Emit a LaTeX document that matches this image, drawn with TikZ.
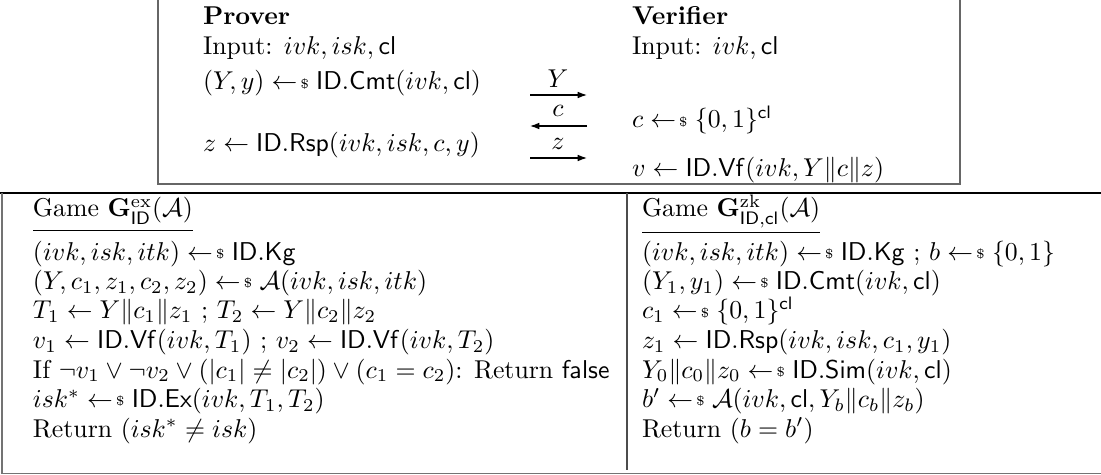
\documentclass[tikz,border=0pt]{standalone}
\usetikzlibrary{arrows.meta}
% sampling arrow: left arrow followed by a small dollar sign
\newcommand{\getsr}{\mathrel{\leftarrow\mkern-3mu{\raisebox{.6pt}{$\scriptscriptstyle\$$}}}}
\begin{document}
\begin{tikzpicture}[x=0.388pt,y=-0.388pt,
  txt/.style={anchor=base west, inner sep=0pt, outer sep=0pt},
  lbl/.style={anchor=base, inner sep=0pt, outer sep=0pt},
  frame/.style={draw=black!60, line width=0.75pt},
  rule/.style={line width=0.4pt},
  msg/.style={line width=0.45pt, -{Latex[length=3.6pt,width=2.6pt]}}]
\useasboundingbox (0,0) rectangle (1101,475);

% ---- protocol box ----
\draw[frame] (158,-5) -- (158,184) -- (960,184) -- (960,-5);

\node[txt] (p1) at (203,25) {\textbf{Prover}};
\node[txt] (p2) at (203,55) {Input: $ivk, isk, \mathsf{cl}$};
\node[txt] (p3) at (203,90) {$(Y,y) \getsr \mathsf{ID.Cmt}(ivk,\mathsf{cl})$};
\node[txt] (p4) at (203,152) {$z \leftarrow \mathsf{ID.Rsp}(ivk,isk,c,y)$};

\node[txt] (v1) at (632,25) {\textbf{Verifier}};
\node[txt] (v2) at (632,55) {Input: $ivk,\mathsf{cl}$};
\node[txt] (v3) at (632,128) {$c \getsr \{0,1\}^{\mathsf{cl}}$};
\node[txt] (v4) at (632,177) {$v \leftarrow \mathsf{ID.Vf}(ivk, Y\|c\|z)$};

% messages
\coordinate (ya) at (530,95);  \coordinate (yb) at (587,95);
\coordinate (ca) at (530,126); \coordinate (cb) at (587,126);
\coordinate (za) at (530,158); \coordinate (zb) at (587,158);
\draw[msg] (ya) -- (yb);
\draw[msg] (cb) -- (ca);
\draw[msg] (za) -- (zb);
\node[lbl] (ly) at (558,88) {$Y$};
\node[lbl] (lc) at (558,117) {$c$};
\node[lbl] (lz) at (558,150) {$z$};

% ---- games box ----
\draw[black, line width=0.6pt] (0,193) -- (1101,193);
\draw[draw=black!55, line width=0.6pt] (2,193) -- (2,473.5) -- (1101,473.5);
\draw[draw=black!70, line width=0.5pt] (627,193) -- (627,470);

\node[txt] (l1) at (33,217) {Game $\mathbf{G}^{\mathrm{ex}}_{\mathsf{ID}}(\mathcal{A})$};
\draw[rule] ([yshift=-5.4pt]l1.base west) -- ([yshift=-5.4pt]l1.base east);
\node[txt] (l2) at (33,260) {$(ivk,isk,itk) \getsr \mathsf{ID.Kg}$};
\node[txt] (l3) at (33,289.5) {$(Y,c_1,z_1,c_2,z_2) \getsr \mathcal{A}(ivk,isk,itk)$};
\node[txt] (l4) at (33,319) {$T_1 \leftarrow Y\|c_1\|z_1$ ; $T_2 \leftarrow Y\|c_2\|z_2$};
\node[txt] (l5) at (33,348.5) {$v_1 \leftarrow \mathsf{ID.Vf}(ivk,T_1)$ ; $v_2 \leftarrow \mathsf{ID.Vf}(ivk,T_2)$};
\node[txt] (l6) at (33,378) {If $\neg v_1 \lor \neg v_2 \lor (|c_1|\neq|c_2|) \lor (c_1=c_2)$: Return $\mathsf{false}$};
\node[txt] (l7) at (33,407.5) {$isk^* \getsr \mathsf{ID.Ex}(ivk,T_1,T_2)$};
\node[txt] (l8) at (33,437) {Return $(isk^*\neq isk)$};

\node[txt] (r1) at (642,217) {Game $\mathbf{G}^{\mathrm{zk}}_{\mathsf{ID},\mathsf{cl}}(\mathcal{A})$};
\draw[rule] ([yshift=-5.9pt]r1.base west) -- ([yshift=-5.9pt]r1.base east);
\node[txt] (r2) at (642,260) {$(ivk,isk,itk)\getsr\mathsf{ID.Kg}$ ; $b\getsr\{0,1\}$};
\node[txt] (r3) at (642,289.5) {$(Y_1,y_1)\getsr\mathsf{ID.Cmt}(ivk,\mathsf{cl})$};
\node[txt] (r4) at (642,319) {$c_1\getsr\{0,1\}^{\mathsf{cl}}$};
\node[txt] (r5) at (642,348.5) {$z_1\leftarrow\mathsf{ID.Rsp}(ivk,isk,c_1,y_1)$};
\node[txt] (r6) at (642,378) {$Y_0\|c_0\|z_0\getsr\mathsf{ID.Sim}(ivk,\mathsf{cl})$};
\node[txt] (r7) at (642,407.5) {$b'\getsr\mathcal{A}(ivk,\mathsf{cl},Y_b\|c_b\|z_b)$};
\node[txt] (r8) at (642,437) {Return $(b=b')$};
\end{tikzpicture}
\end{document}
